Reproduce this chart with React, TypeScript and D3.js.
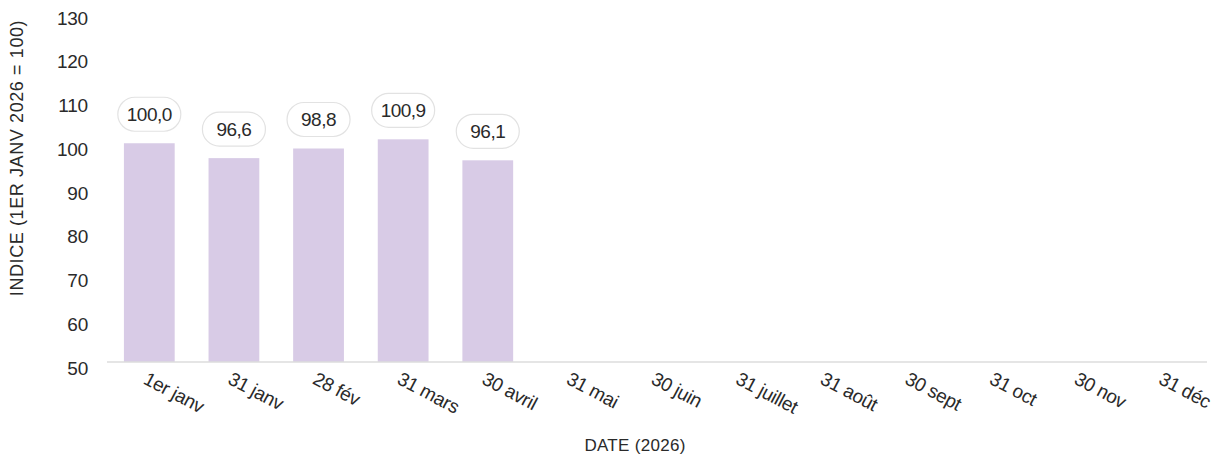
import React, { useRef, useEffect } from "react";
import { select, scaleLinear, scaleBand } from "d3";

const dates = [
  "1er janv", "31 janv", "28 fév", "31 mars", "30 avril", "31 mai", "30 juin",
  "31 juillet", "31 août", "30 sept", "31 oct", "30 nov", "31 déc",
];
const indexValues = [100.0, 96.6, 98.8, 100.9, 96.1];
const yTicks = [50, 60, 70, 80, 90, 100, 110, 120, 130];

const W = 1225;
const H = 459;
const FONT = "'Liberation Sans', Arial, sans-serif";

const App: React.FC = () => {
  const ref = useRef<SVGSVGElement>(null);

  useEffect(() => {
    const svg = select(ref.current);
    svg.selectAll("*").remove();

    const x = scaleBand<string>()
      .domain(dates)
      .range([107, 1207])
      .paddingInner(0.4)
      .paddingOuter(0.2);
    const y = scaleLinear().domain([50, 130]).range([362, 12]);

    // y labels
    svg.append("g")
      .selectAll("text")
      .data(yTicks)
      .enter()
      .append("text")
      .attr("x", 88)
      .attr("y", (d) => y(d) + 6)
      .attr("dy", "0.35em")
      .attr("text-anchor", "end")
      .attr("font-family", FONT)
      .attr("font-size", 19)
      .attr("letter-spacing", "-0.2px")
      .attr("fill", "#2a2a2a")
      .text((d) => d);

    // bars
    svg.append("g")
      .selectAll("rect")
      .data(indexValues)
      .enter()
      .append("rect")
      .attr("x", (d, i) => x(dates[i])!)
      .attr("y", (d) => y(d))
      .attr("width", x.bandwidth())
      .attr("height", (d) => y(50) - y(d))
      .attr("fill", "#d8cbe6");

    // baseline
    svg.append("line")
      .attr("x1", 107)
      .attr("x2", 1207)
      .attr("y1", y(50))
      .attr("y2", y(50))
      .attr("stroke", "#dcdcdc")
      .attr("stroke-width", 1.5);

    // value pills
    const pills = svg.append("g")
      .selectAll("g")
      .data(indexValues)
      .enter()
      .append("g")
      .attr("transform", (d, i) =>
        `translate(${x(dates[i])! + x.bandwidth() / 2},${y(d) - 29})`);
    pills.append("rect")
      .attr("x", -31.5)
      .attr("y", -17)
      .attr("width", 63)
      .attr("height", 34)
      .attr("rx", 17)
      .attr("fill", "#fff")
      .attr("stroke", "#e2e2e2")
      .attr("stroke-width", 1.2);
    pills.append("text")
      .attr("text-anchor", "middle")
      .attr("dy", "0.35em")
      .attr("font-family", FONT)
      .attr("font-size", 19)
      .attr("letter-spacing", "-0.5px")
      .attr("fill", "#2a2a2a")
      .text((d) => d.toFixed(1).replace(".", ","));

    // x labels
    svg.append("g")
      .selectAll("text")
      .data(dates)
      .enter()
      .append("text")
      .attr("transform", (d) =>
        `translate(${x(d)! + x.bandwidth() / 2 - 4},${377}) rotate(28)`)
      .attr("text-anchor", "start")
      .attr("dy", "0.35em")
      .attr("font-family", FONT)
      .attr("font-size", 19)
      .attr("letter-spacing", "-0.3px")
      .attr("fill", "#2a2a2a")
      .text((d) => d);

    // axis titles
    svg.append("text")
      .attr("transform", `translate(17,${158}) rotate(-90)`)
      .attr("text-anchor", "middle")
      .attr("dy", "0.35em")
      .attr("font-family", FONT)
      .attr("font-size", 18)
      .attr("letter-spacing", "0.6px")
      .attr("fill", "#2a2a2a")
      .text("INDICE (1ER JANV 2026 = 100)");

    svg.append("text")
      .attr("x", 635)
      .attr("y", 445)
      .attr("dy", "0.35em")
      .attr("text-anchor", "middle")
      .attr("font-family", FONT)
      .attr("font-size", 17)
      .attr("letter-spacing", "0.3px")
      .attr("fill", "#2a2a2a")
      .text("DATE (2026)");
  }, []);

  return (
    <svg
      ref={ref}
      width={W}
      height={H}
      style={{ position: "absolute", left: 0, top: 0, background: "#fff" }}
    />
  );
};

export default App;
